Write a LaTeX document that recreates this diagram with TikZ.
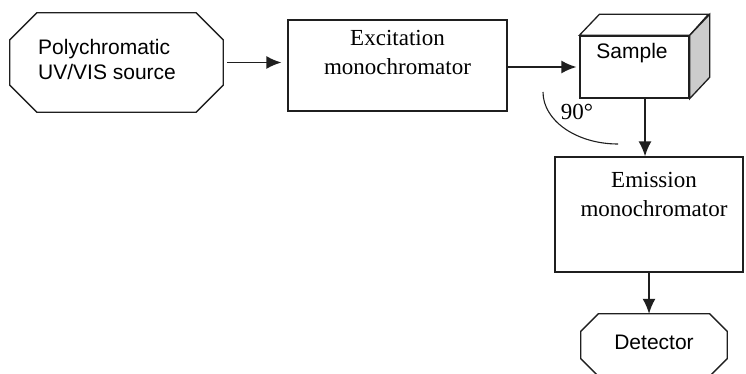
\documentclass[tikz,border=0pt]{standalone}
\usepackage{fontspec}
\setmainfont{Liberation Serif}
\setsansfont{Liberation Sans}
\usepackage{xcolor}
\definecolor{boxdraw}{rgb}{0.12,0.12,0.12}
\definecolor{sidefill}{rgb}{0.80,0.80,0.80}
\usepackage{tikz}
\usetikzlibrary{positioning,arrows.meta}

% octagon round a named node: #1 node, #2 cut of the corners
\newcommand{\octoutline}[2]{%
  \draw[draw=boxdraw, line width=1.3pt]
    ([xshift=#2]#1.north west) -- ([xshift=-#2]#1.north east)
    -- ([yshift=-#2]#1.north east) -- ([yshift=#2]#1.south east)
    -- ([xshift=-#2]#1.south east) -- ([xshift=#2]#1.south west)
    -- ([yshift=#2]#1.south west) -- ([yshift=-#2]#1.north west) -- cycle;}

\begin{document}
\begin{tikzpicture}[
  x=1pt, y=-1pt,
  >={Latex[length=15pt,width=13pt]},
  every node/.style={align=center, inner sep=0pt},
  sanstext/.style  ={font=\sffamily\fontsize{21}{25}\selectfont},
  seriftext/.style ={font=\rmfamily\fontsize{23}{29}\selectfont},
  octbox/.style    ={rectangle},
  monobox/.style   ={rectangle, draw=boxdraw, line width=1.3pt},
  flow/.style      ={->, line width=1.5pt, draw=boxdraw}
]
\clip (0,0) rectangle (746,374);

\node[octbox, minimum width=213pt, minimum height=99pt] (src) at (116.5,62.5) {};
\octoutline{src}{27pt}
\node[sanstext, align=left, anchor=west] (srclab) at (38,59.5) {Polychromatic\\UV/VIS source};

\node[monobox, minimum width=219pt, minimum height=91pt] (exc) at (397.5,65.5) {};
\node[seriftext] (exclab) at (397.5,52.5) {Excitation\\monochromator};

\node[monobox, minimum width=109pt, minimum height=62pt] (smp) at (634.5,67) {};
\node[sanstext] (smplab) at (632,53) {Sample};
% top and side faces of the sample cell
\draw[draw=boxdraw, line width=1.3pt, fill=white] (smp.north west) -- ++(20,-21) -- ++(109,0) -- (smp.north east) -- cycle;
\draw[draw=boxdraw, line width=1.3pt, fill=sidefill] (smp.north east) -- ++(20,-21) -- ++(0,63) -- (smp.south east) -- cycle;

\node[monobox, minimum width=188pt, minimum height=115pt] (emi) at (649,214.5) {};
\node[seriftext] (emilab) at (654,194) {Emission\\monochromator};

\node[octbox, sanstext, minimum width=146pt, minimum height=62pt] (det) at (654,345) {};
\octoutline{det}{17.5pt}
\node[sanstext] (detlab) at (654,342) {Detector};

\draw[flow, shorten <=4pt, shorten >=6pt] (src.east) -- (src.east -| exc.west);
\draw[flow, shorten >=3pt] (exc.east |- smp.west) -- (smp.west);
\draw[flow] ([xshift=10.5pt]smp.south) -- ([xshift=10.5pt]smp.south |- emi.north);
\draw[flow] (emi.south) -- (emi.south |- det.north);

% right angle between excitation and emission
\coordinate (arcstart) at (543,92);
\draw[draw=boxdraw, line width=1.1pt] (arcstart) arc[start angle=180, end angle=270, x radius=75pt, y radius=52pt];
\node[seriftext] (anglab) at (577,112) {90°};

\end{tikzpicture}
\end{document}
